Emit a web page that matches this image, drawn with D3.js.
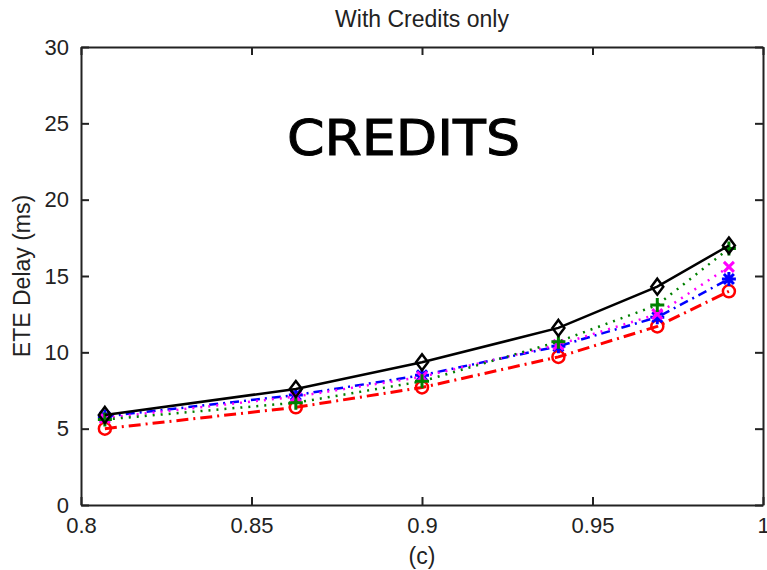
<!DOCTYPE html>
<html>
<head>
<meta charset="utf-8">
<script src="https://cdn.jsdelivr.net/npm/d3@7"></script>
<style>
  body { margin: 0; background: #fff; }
  text { font-family: "Liberation Sans Narrow", "Liberation Sans", Arial, sans-serif; }
</style>
</head>
<body>
<div id="chart"></div>
<script>
// x values (load) and the five series
const xVals = [0.807, 0.863, 0.9, 0.94, 0.969, 0.99];
const blackDiamond = [5.9, 7.6, 9.35, 11.6, 14.3, 17.0];
const greenPlus = [5.6, 6.7, 8.1, 10.7, 13.1, 16.8];
const magentaX = [5.7, 7.1, 8.4, 10.5, 12.5, 15.6];
const blueStar = [5.8, 7.2, 8.5, 10.4, 12.3, 14.8];
const redCircle = [5.0, 6.4, 7.7, 9.7, 11.7, 14.0];
const xTicks = [0.8, 0.85, 0.9, 0.95, 1];
const yTicks = [0, 5, 10, 15, 20, 25, 30];

const width = 767, height = 570;
const margin = { top: 47, right: 4, bottom: 65, left: 81 };

const svg = d3.select("#chart").append("svg")
    .attr("width", width)
    .attr("height", height);

const x = d3.scaleLinear().domain([0.8, 1]).range([margin.left, width - margin.right]);
const y = d3.scaleLinear().domain([0, 30]).range([height - margin.bottom, margin.top]);

// series draw order: back to front
const series = [
    { values: redCircle, color: "#ff0000", dash: "12,5,2,5", width: 3, marker: "circle" },
    { values: blueStar, color: "#0000ff", dash: "9,5,2,5", width: 2.5, marker: "star" },
    { values: magentaX, color: "#ff00ff", dash: "2,6", width: 2.5, marker: "x" },
    { values: greenPlus, color: "#008000", dash: "2,6", width: 2.5, marker: "plus" },
    { values: blackDiamond, color: "#000000", dash: null, width: 2.5, marker: "diamond" }
];

const line = d3.line().x(d => x(d[0])).y(d => y(d[1]));

series.forEach(s => {
    const pts = xVals.map((v, i) => [v, s.values[i]]);
    svg.append("path")
        .attr("d", line(pts))
        .attr("fill", "none")
        .attr("stroke", s.color)
        .attr("stroke-width", s.width)
        .attr("stroke-dasharray", s.dash);

    const g = svg.append("g");
    pts.forEach(p => {
        const cx = x(p[0]), cy = y(p[1]);
        if (s.marker === "circle") {
            g.append("circle").attr("cx", cx).attr("cy", cy).attr("r", 6)
                .attr("fill", "none").attr("stroke", s.color).attr("stroke-width", 2.5);
        } else if (s.marker === "diamond") {
            g.append("path")
                .attr("d", `M${cx},${cy - 8}L${cx + 6},${cy}L${cx},${cy + 8}L${cx - 6},${cy}Z`)
                .attr("fill", "none").attr("stroke", s.color).attr("stroke-width", 2.5);
        } else if (s.marker === "plus") {
            g.append("path")
                .attr("d", `M${cx - 7},${cy}H${cx + 7}M${cx},${cy - 7}V${cy + 7}`)
                .attr("stroke", s.color).attr("stroke-width", 3);
        } else if (s.marker === "x") {
            g.append("path")
                .attr("d", `M${cx - 5},${cy - 5}L${cx + 5},${cy + 5}M${cx - 5},${cy + 5}L${cx + 5},${cy - 5}`)
                .attr("stroke", s.color).attr("stroke-width", 3);
        } else if (s.marker === "star") {
            g.append("path")
                .attr("d", `M${cx - 7},${cy}H${cx + 7}M${cx},${cy - 7}V${cy + 7}` +
                    `M${cx - 5},${cy - 5}L${cx + 5},${cy + 5}M${cx - 5},${cy + 5}L${cx + 5},${cy - 5}`)
                .attr("stroke", s.color).attr("stroke-width", 3);
        }
    });
});

// axes box
const axisFont = "22px";
svg.append("g")
    .attr("transform", `translate(0,${y(0)})`)
    .call(d3.axisBottom(x).tickValues(xTicks).tickFormat(d3.format("")).tickSizeInner(-8).tickSizeOuter(0).tickPadding(12))
    .call(g => g.selectAll("text").attr("fill", "#222").style("font-size", axisFont));
svg.append("g")
    .attr("transform", `translate(0,${y(30)})`)
    .call(d3.axisTop(x).tickValues(xTicks).tickFormat("").tickSizeInner(-8).tickSizeOuter(0));
svg.append("g")
    .attr("transform", `translate(${x(0.8)},0)`)
    .call(d3.axisLeft(y).tickValues(yTicks).tickSizeInner(-8).tickSizeOuter(0).tickPadding(12))
    .call(g => g.selectAll("text").attr("fill", "#222").style("font-size", axisFont));
svg.append("g")
    .attr("transform", `translate(${x(1)},0)`)
    .call(d3.axisRight(y).tickValues(yTicks).tickFormat("").tickSizeInner(-8).tickSizeOuter(0));
svg.selectAll(".domain, .tick line").attr("stroke", "#222").attr("stroke-width", 2);

// labels
svg.append("text")
    .attr("x", (x(0.8) + x(1)) / 2).attr("y", 27)
    .attr("text-anchor", "middle").style("font-size", "23px").attr("fill", "#222")
    .text("With Credits only");
svg.append("text")
    .attr("x", (x(0.8) + x(1)) / 2).attr("y", 564)
    .attr("text-anchor", "middle").style("font-size", "23px").attr("fill", "#222")
    .text("(c)");
svg.append("text")
    .attr("transform", `translate(30,${(y(0) + y(30)) / 2}) rotate(-90)`)
    .attr("text-anchor", "middle").style("font-size", "23px").attr("fill", "#222")
    .text("ETE Delay (ms)");
svg.append("text")
    .attr("x", 287).attr("y", 155)
    .attr("textLength", 233).attr("lengthAdjust", "spacingAndGlyphs")
    .style("font-family", "'Comic Sans MS', 'DejaVu Sans', sans-serif")
    .style("font-size", "50px")
    .attr("fill", "#000").attr("stroke", "#000").attr("stroke-width", 1)
    .text("CREDITS");
</script>
</body>
</html>
